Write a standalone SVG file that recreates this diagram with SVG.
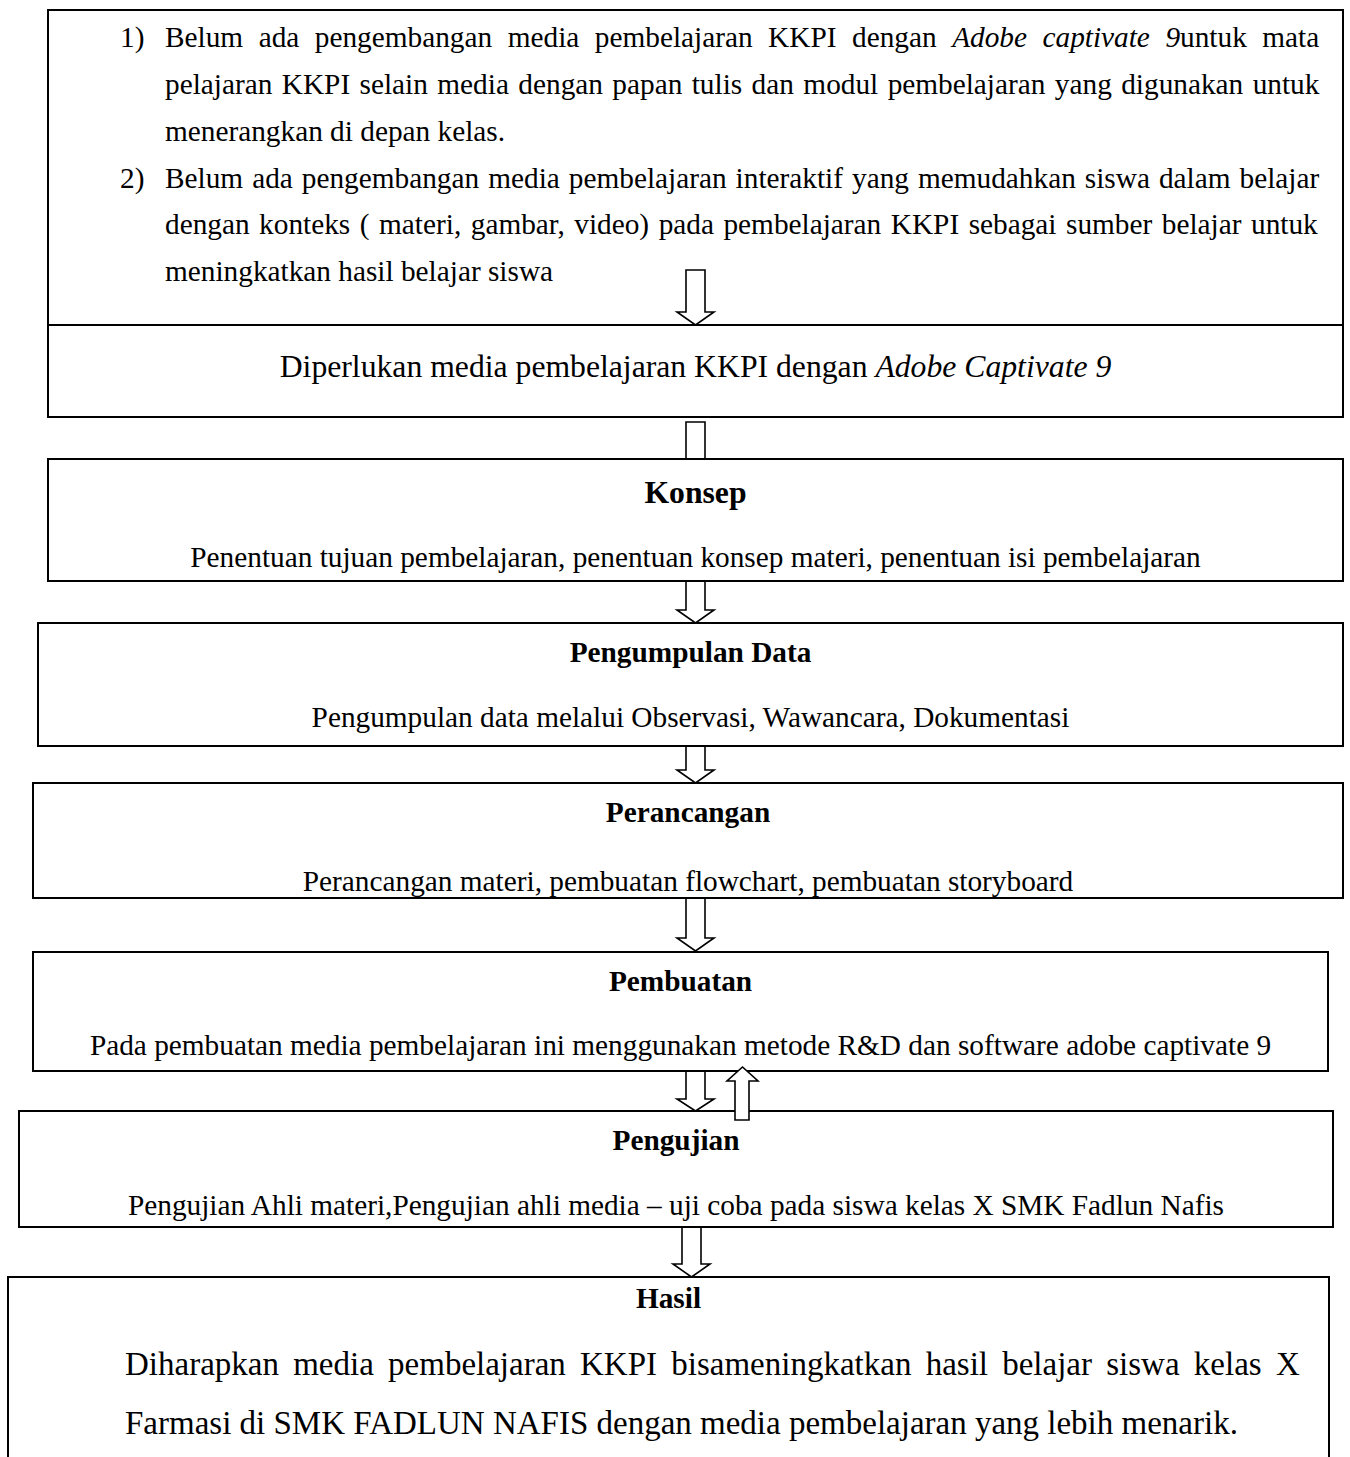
<svg xmlns="http://www.w3.org/2000/svg" width="1350" height="1457" viewBox="0 0 1350 1457">
<style>
  text { font-family: "Liberation Serif", "Times New Roman", serif; fill: #000; }
  .t { font-size: 29.3px; }
  .h { font-size: 29.3px; font-weight: bold; text-anchor: middle; }
  .c { text-anchor: middle; }
  .i { font-style: italic; }
  .box { fill: none; stroke: #000; stroke-width: 2; }
  .boxw { fill: #fff; stroke: #000; stroke-width: 2; }
  .arr { fill: #fff; stroke: #000; stroke-width: 1.6; stroke-linejoin: miter; }
</style>
<defs>
  <clipPath id="clipPer"><rect x="34" y="784" width="1308" height="113"/></clipPath>
  <clipPath id="clipUji"><rect x="20" y="1112" width="1312" height="114"/></clipPath>
</defs>
<rect width="1350" height="1457" fill="#fff"/>

<g id="connectors">
  <polygon class="arr" points="686,270 705,270 705,312 714,312 695.5,325 677,312 686,312 686,270"/>
  <polygon class="arr" points="686,422 705,422 705,468 714,468 695.5,481 677,468 686,468 686,422"/>
  <polygon class="arr" points="686,581 705,581 705,610 714,610 695.5,623 677,610 686,610 686,581"/>
  <polygon class="arr" points="686,746 705,746 705,770 714,770 695.5,783 677,770 686,770 686,746"/>
  <polygon class="arr" points="686,898 705,898 705,938 714,938 695.5,951 677,938 686,938 686,898"/>
  <polygon class="arr" points="686,1071 705,1071 705,1099 714,1099 695.5,1111 677,1099 686,1099 686,1071"/>
  <polygon class="arr" points="682,1227 701,1227 701,1264 710,1264 691.5,1277 673,1264 682,1264 682,1227"/>
</g>

<g id="node-masalah">
  <rect class="box" x="48" y="10" width="1295" height="407"/>
  <line x1="48" y1="325" x2="1343" y2="325" stroke="#000" stroke-width="2"/>
  <text class="t" x="120" y="47">1)</text>
  <text class="t" x="165" y="47" word-spacing="8.2">Belum ada pengembangan media pembelajaran KKPI dengan <tspan class="i">Adobe captivate 9</tspan>untuk mata</text>
  <text class="t" x="165" y="94" word-spacing="2.1">pelajaran KKPI selain media dengan papan tulis dan modul pembelajaran yang digunakan untuk</text>
  <text class="t" x="165" y="141">menerangkan di depan kelas.</text>
  <text class="t" x="120" y="188">2)</text>
  <text class="t" x="165" y="188" word-spacing="1.7">Belum ada pengembangan media pembelajaran interaktif yang memudahkan siswa dalam belajar</text>
  <text class="t" x="165" y="234" word-spacing="2.2">dengan konteks ( materi, gambar, video) pada pembelajaran KKPI sebagai sumber belajar untuk</text>
  <text class="t" x="165" y="281">meningkatkan hasil belajar siswa</text>
</g>

<g id="node-diperlukan">
  <text class="c" x="695.5" y="377" font-size="31.7">Diperlukan media pembelajaran KKPI dengan <tspan class="i">Adobe Captivate 9</tspan></text>
</g>

<g id="node-konsep">
  <rect class="boxw" x="48" y="459" width="1295" height="122"/>
  <text class="h" x="695.5" y="503" font-size="31.7" style="font-size:31.7px">Konsep</text>
  <text class="t c" x="695.5" y="567">Penentuan tujuan pembelajaran, penentuan konsep materi, penentuan isi pembelajaran</text>
</g>

<g id="node-pengumpulan">
  <rect class="box" x="38" y="623" width="1305" height="123"/>
  <text class="h" x="690.5" y="662">Pengumpulan Data</text>
  <text class="t c" x="690.5" y="727">Pengumpulan data melalui Observasi, Wawancara, Dokumentasi</text>
</g>

<g id="node-perancangan">
  <rect class="box" x="33" y="783" width="1310" height="115"/>
  <text class="h" x="688" y="822">Perancangan</text>
  <text class="t c" x="688" y="891" clip-path="url(#clipPer)">Perancangan materi, pembuatan flowchart, pembuatan storyboard</text>
</g>

<g id="node-pembuatan">
  <rect class="box" x="33" y="952" width="1295" height="119"/>
  <text class="h" x="680.5" y="991">Pembuatan</text>
  <text class="t c" x="680.5" y="1055">Pada pembuatan media pembelajaran ini menggunakan metode R&amp;D dan software adobe captivate 9</text>
</g>

<g id="node-pengujian">
  <rect class="box" x="19" y="1111" width="1314" height="116"/>
  <text class="h" x="676" y="1150">Pengujian</text>
  <text class="t c" x="676" y="1215" clip-path="url(#clipUji)">Pengujian Ahli materi,Pengujian ahli media – uji coba pada siswa kelas X SMK Fadlun Nafis</text>
</g>

<g id="connector-balik">
  <polygon class="arr" points="735,1120 749,1120 749,1081 758,1081 742.5,1067 727,1081 735,1081 735,1120"/>
</g>

<g id="node-hasil">
  <path class="box" d="M8,1457 V1277 H1329 V1457"/>
  <text class="h" x="668.5" y="1308">Hasil</text>
  <text x="125" y="1375" font-size="33" word-spacing="6">Diharapkan media pembelajaran KKPI bisameningkatkan hasil belajar siswa kelas X</text>
  <text x="125" y="1434" font-size="33">Farmasi di SMK FADLUN NAFIS dengan media pembelajaran yang lebih menarik.</text>
</g>
</svg>
